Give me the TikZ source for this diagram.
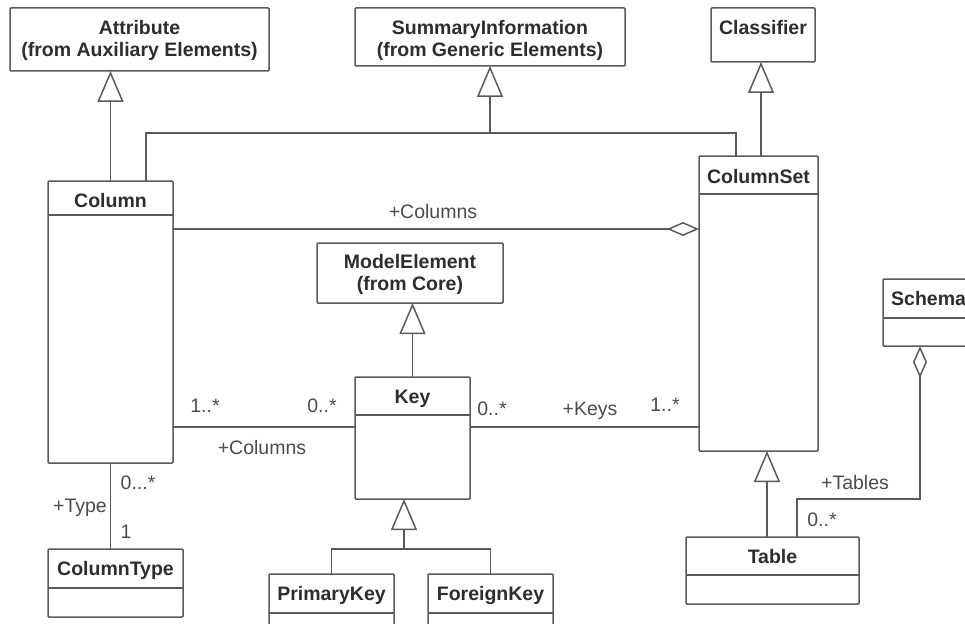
\documentclass[tikz,border=0pt]{standalone}
\usepackage{fontspec}
\setmainfont{Liberation Sans}
\usetikzlibrary{arrows.meta,positioning,calc}
\definecolor{linegray}{RGB}{90,90,90}
\definecolor{textgray}{RGB}{45,45,45}
\definecolor{labelgray}{RGB}{75,75,75}
\newcommand{\dfont}{\fontsize{19.5}{22}\selectfont}
\tikzset{
  cls/.style={draw=linegray, line width=1.5pt, rounded corners=1pt, anchor=north west, inner sep=0pt, outer sep=0pt},
  clsname/.style={font=\dfont\bfseries, text=textgray, inner sep=0pt, anchor=base},
  lbl/.style={font=\dfont, text=labelgray, inner sep=0pt},
  conn/.style={draw=linegray, line width=1.5pt},
  gen/.style={conn, -{Triangle[open, length=31pt, width=26pt]}},
  agg/.style={conn, -{Diamond[open, length=32pt, width=14pt]}},
}

\begin{document}
\begin{tikzpicture}[x=1pt, y=-1pt]
\useasboundingbox (0,0) rectangle (965,623);

% classes, top row
\node[cls, minimum width=259pt, minimum height=63pt] (attribute) at (10,8) {};
\node[clsname] (attribute-t1) at ([yshift=-27pt]attribute.north) {Attribute};
\node[clsname] (attribute-t2) at ([yshift=-49pt]attribute.north) {(from Auxiliary Elements)};

\node[cls, minimum width=270pt, minimum height=58pt] (summary) at (355,8) {};
\node[clsname] (summary-t1) at ([yshift=-27pt]summary.north) {SummaryInformation};
\node[clsname] (summary-t2) at ([yshift=-49pt]summary.north) {(from Generic Elements)};

\node[cls, minimum width=104pt, minimum height=54pt] (classifier) at (711,8) {};
\node[clsname] (classifier-t) at ([yshift=-27pt]classifier.north) {Classifier};

% column and columnset
\node[cls, minimum width=125pt, minimum height=282pt] (column) at (48,181) {};
\draw[conn] ([yshift=-34pt]column.north west) -- ([yshift=-34pt]column.north east);
\node[clsname] (column-t) at ([yshift=-26pt]column.north) {Column};

\node[cls, minimum width=119pt, minimum height=295pt] (columnset) at (699,156) {};
\draw[conn] ([yshift=-38pt]columnset.north west) -- ([yshift=-38pt]columnset.north east);
\node[clsname] (columnset-t) at ([yshift=-27pt]columnset.north) {ColumnSet};

% key and friends
\node[cls, minimum width=186pt, minimum height=60pt] (modelelement) at (317,243) {};
\node[clsname] (modelelement-t1) at ([yshift=-25pt]modelelement.north) {ModelElement};
\node[clsname] (modelelement-t2) at ([yshift=-47pt]modelelement.north) {(from Core)};

\node[cls, minimum width=115pt, minimum height=122pt] (key) at (355,377) {};
\draw[conn] ([yshift=-38pt]key.north west) -- ([yshift=-38pt]key.north east);
\node[clsname] (key-t) at ([yshift=-26pt]key.north) {Key};

\node[cls, minimum width=135pt, minimum height=68pt] (columntype) at (48,549) {};
\draw[conn] ([yshift=-39pt]columntype.north west) -- ([yshift=-39pt]columntype.north east);
\node[clsname] (columntype-t) at ([yshift=-26pt]columntype.north) {ColumnType};

\node[cls, minimum width=125pt, minimum height=60pt] (primarykey) at (269,574) {};
\draw[conn] ([yshift=-39pt]primarykey.north west) -- ([yshift=-39pt]primarykey.north east);
\node[clsname] (primarykey-t) at ([yshift=-26pt]primarykey.north) {PrimaryKey};

\node[cls, minimum width=125pt, minimum height=60pt] (foreignkey) at (428,574) {};
\draw[conn] ([yshift=-39pt]foreignkey.north west) -- ([yshift=-39pt]foreignkey.north east);
\node[clsname] (foreignkey-t) at ([yshift=-26pt]foreignkey.north) {ForeignKey};

% table and schema
\node[cls, minimum width=173pt, minimum height=67pt] (table) at (686,537) {};
\draw[conn] ([yshift=-38pt]table.north west) -- ([yshift=-38pt]table.north east);
\node[clsname] (table-t) at ([yshift=-26pt]table.north) {Table};

\node[cls, minimum width=117pt, minimum height=67pt] (schema) at (883,279) {};
\draw[conn] ([yshift=-39pt]schema.north west) -- ([yshift=-39pt]schema.north east);
\node[clsname, anchor=base west] (schema-t) at ([xshift=8pt, yshift=-26pt]schema.north west) {Schema};

% generalizations
\draw[gen] (column.north) -- (column.north |- attribute.south);
\coordinate (sumjoin) at (490,133);
\draw[gen] (sumjoin) -- (sumjoin |- summary.south);
\draw[conn] ([xshift=35.5pt]column.north) |- (sumjoin) -| ([xshift=-22.5pt]columnset.north);
\draw[gen] ([xshift=2.5pt]columnset.north) -- ([xshift=2.5pt]columnset.north |- classifier.south);
\draw[gen] (key.north) -- (key.north |- modelelement.south);
\coordinate (keyjoin) at (404,549);
\draw[gen] (keyjoin) -- (keyjoin |- key.south);
\draw[conn] (primarykey.north) |- (keyjoin) -| (foreignkey.north);
\draw[gen] ([xshift=-5.5pt]table.north) -- ([xshift=-5.5pt]table.north |- columnset.south);

% associations
\coordinate (aggrow) at (0,229);
\draw[agg] (column.east |- aggrow) -- (columnset.west |- aggrow);
\coordinate (keyrow) at (0,427);
\draw[conn] (column.east |- keyrow) -- (key.west |- keyrow);
\draw[conn] (key.east |- keyrow) -- (columnset.west |- keyrow);
\draw[conn] (column.south) -- (column.south |- columntype.north);
\coordinate (tabjoin) at (920,499);
\draw[agg] ([xshift=24.5pt]table.north) |- (tabjoin) -- (tabjoin |- schema.south);

% roles and multiplicities
\node[lbl] (agg-role) at (433,212) {+Columns};
\node[lbl] (colkey-m1) at (205,406) {1..*};
\node[lbl] (colkey-m2) at (322,406) {0..*};
\node[lbl] (colkey-role) at (262,448) {+Columns};
\node[lbl] (keyset-m1) at (492,409) {0..*};
\node[lbl] (keyset-role) at (590,411) {+Keys};
\node[lbl] (keyset-m2) at (665,405) {1..*};
\node[lbl] (type-m1) at (138,483) {0...*};
\node[lbl] (type-role) at (80,508) {+Type};
\node[lbl] (type-m2) at (126,532) {1};
\node[lbl] (tab-role) at (855,483) {+Tables};
\node[lbl] (tab-m) at (822,520) {0..*};
\end{tikzpicture}
\end{document}
